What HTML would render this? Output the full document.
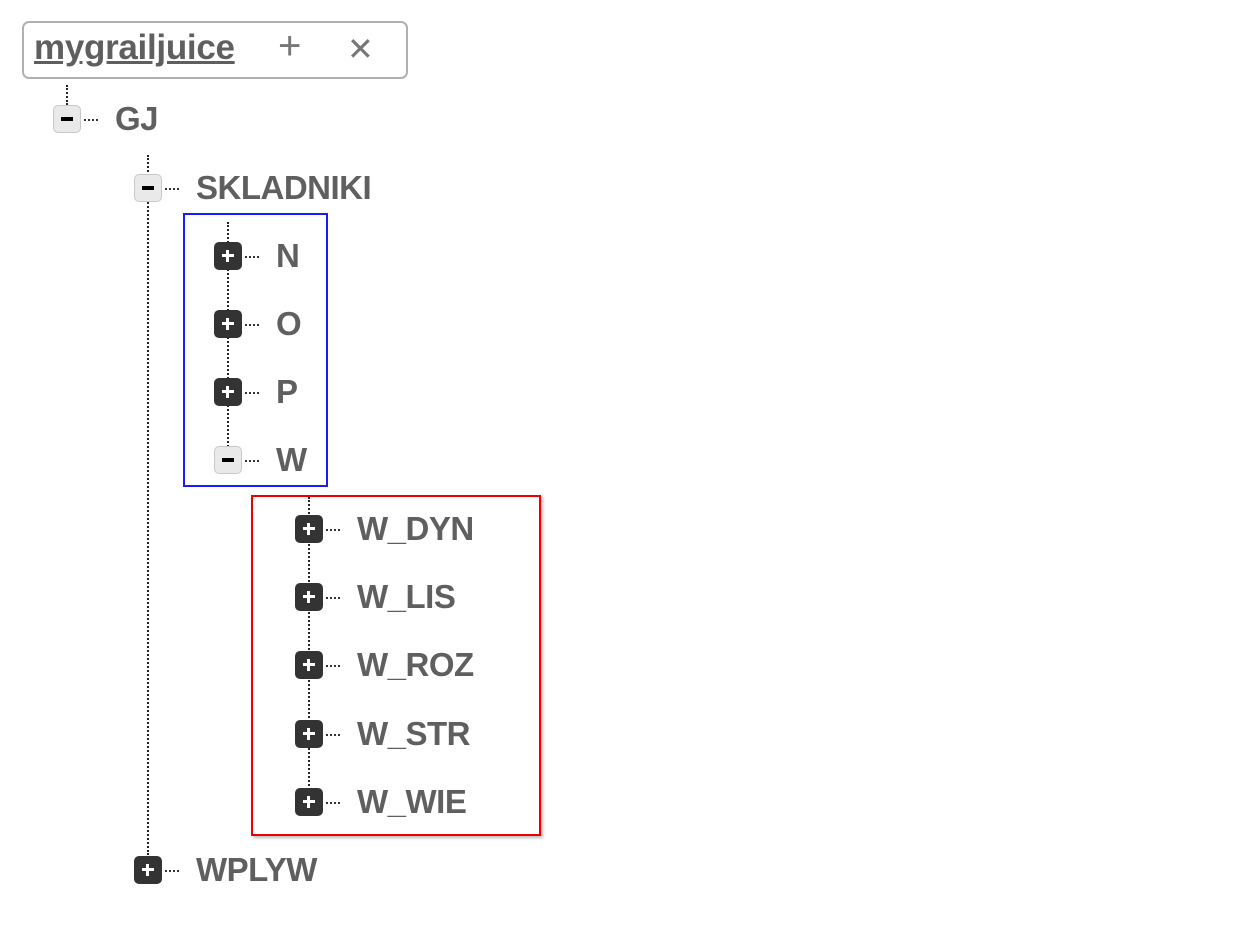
<!DOCTYPE html>
<html><head><meta charset="utf-8"><style>
body{margin:0;width:1239px;height:940px;background:#fff;position:relative;overflow:hidden;font-family:"Liberation Sans",sans-serif}
.a{position:absolute}
.ic{position:absolute;width:28px;height:28px;border-radius:5px;box-sizing:border-box}
.pl{background:#333;}
.pl:before{content:"";position:absolute;left:8px;top:12px;width:12px;height:3px;background:#fff}
.pl:after{content:"";position:absolute;left:12px;top:8px;width:3px;height:12px;background:#fff}
.mi{background:#e9e9e9;border:1px solid #c8c8c8}
.mi:before{content:"";position:absolute;left:7px;top:11px;width:12px;height:4px;background:#000}
.h{position:absolute;height:0;border-top:2px dotted #333;width:14px}
.v{position:absolute;width:0;border-left:2px dotted #222}
.t{position:absolute;font-size:33px;font-weight:bold;color:#5f5f5f;line-height:40px;letter-spacing:-0.5px}
</style></head><body>
<div class="a" style="left:22px;top:21px;width:382px;height:54px;border:2px solid #b0b0b0;border-radius:7px"></div>
<div class="a" style="left:34px;top:28px;font-size:35px;font-weight:bold;color:#5f5f5f;text-decoration:underline;line-height:40px;letter-spacing:-0.3px">mygrailjuice</div>
<div class="a" style="left:278px;top:24px;font-size:40px;font-weight:300;color:#777;line-height:44px">+</div>
<div class="a" style="left:347px;top:27px;font-size:32px;font-weight:300;color:#777;line-height:44px">✕</div>

<div class="v" style="left:66px;top:85px;height:20px"></div>
<div class="v" style="left:147px;top:155px;height:700px"></div>
<div class="v" style="left:227px;top:222px;height:228px"></div>
<div class="v" style="left:308px;top:497px;height:293px"></div>

<div class="a" style="left:183px;top:213px;width:141px;height:270px;border:2px solid #1a1aff"></div>
<div class="a" style="left:251px;top:495px;width:286px;height:337px;border:2px solid #e00;box-shadow:2px 2px 3px #bbb"></div>

<div class="ic mi" style="left:53px;top:105px"></div><div class="h" style="left:84px;top:119px"></div><div class="t" style="left:115px;top:99px">GJ</div>
<div class="ic mi" style="left:134px;top:174px"></div><div class="h" style="left:165px;top:188px"></div><div class="t" style="left:196px;top:168px">SKLADNIKI</div>
<div class="ic pl" style="left:214px;top:242px"></div><div class="h" style="left:245px;top:256px"></div><div class="t" style="left:276px;top:236px">N</div>
<div class="ic pl" style="left:214px;top:310px"></div><div class="h" style="left:245px;top:324px"></div><div class="t" style="left:276px;top:304px">O</div>
<div class="ic pl" style="left:214px;top:378px"></div><div class="h" style="left:245px;top:392px"></div><div class="t" style="left:276px;top:372px">P</div>
<div class="ic mi" style="left:214px;top:446px"></div><div class="h" style="left:245px;top:460px"></div><div class="t" style="left:276px;top:440px">W</div>
<div class="ic pl" style="left:295px;top:515px"></div><div class="h" style="left:326px;top:529px"></div><div class="t" style="left:357px;top:509px">W_DYN</div>
<div class="ic pl" style="left:295px;top:583px"></div><div class="h" style="left:326px;top:597px"></div><div class="t" style="left:357px;top:577px">W_LIS</div>
<div class="ic pl" style="left:295px;top:651px"></div><div class="h" style="left:326px;top:665px"></div><div class="t" style="left:357px;top:645px">W_ROZ</div>
<div class="ic pl" style="left:295px;top:720px"></div><div class="h" style="left:326px;top:734px"></div><div class="t" style="left:357px;top:714px">W_STR</div>
<div class="ic pl" style="left:295px;top:788px"></div><div class="h" style="left:326px;top:802px"></div><div class="t" style="left:357px;top:782px">W_WIE</div>
<div class="ic pl" style="left:134px;top:856px"></div><div class="h" style="left:165px;top:870px"></div><div class="t" style="left:196px;top:850px">WPLYW</div>
</body></html>
